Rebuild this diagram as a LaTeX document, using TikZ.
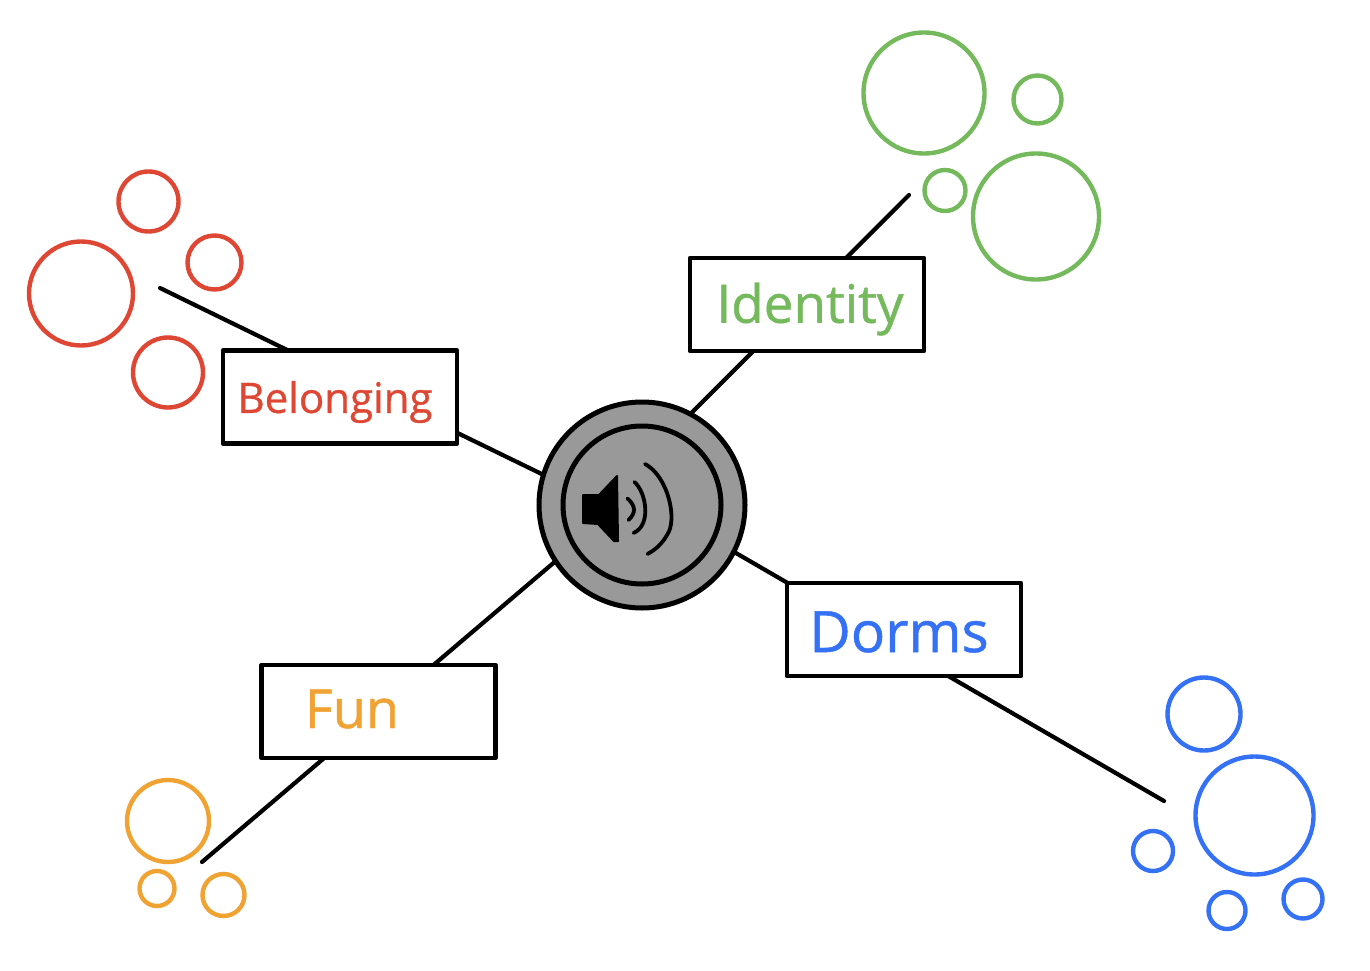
\documentclass[tikz,border=0pt]{standalone}
\usepackage{fontspec}
\setmainfont{Open Sans}
\newfontfamily\penfont[FakeBold=0.8]{Open Sans}
\usetikzlibrary{backgrounds}
\definecolor{cred}{HTML}{DE4733}
\definecolor{cgreen}{HTML}{74B95B}
\definecolor{cblue}{HTML}{3571F5}
\definecolor{corange}{HTML}{F0A232}
\definecolor{hubgray}{HTML}{999999}
\tikzset{
  x=1pt,y=-1pt,
  wire/.style={draw=black,line width=4.2pt,line cap=round},
  labelbox/.style={draw=black,fill=white,line width=4.6pt,minimum width=234pt,minimum height=93pt,inner sep=0pt,outer sep=0pt,line join=round},
  hubdisc/.style={circle,draw=black,fill=hubgray,line width=5pt,inner sep=0pt,outer sep=0pt},
  bubble/.style={circle,draw=#1,line width=4.4pt,inner sep=0pt,outer sep=0pt,fill=none},
  boxtext/.style={text=#1,inner sep=0pt},
  soundwave/.style={draw=black,line width=3.8pt,line cap=round}
}
\begin{document}
\begin{tikzpicture}
\useasboundingbox (0,0) rectangle (1370,971);
% hub
\node[hubdisc,minimum size=206pt] (hub) at (642,505) {};
\node[hubdisc,minimum size=158pt] (hubinner) at (642,505) {};
\fill[black,line join=round,draw=black,line width=2pt] (583,495) -- (599,495) -- (617,476) -- (618,541) -- (614,541) -- (598,524) -- (583,523) -- cycle;
\draw[soundwave] (627.5,498.5) .. controls (636,506) and (636,513) .. (628.5,520);
\draw[soundwave] (634.5,482) .. controls (646,492) and (652,525) .. (633.5,533);
\draw[soundwave] (645,464) .. controls (668,476) and (678,520) .. (667,535) .. controls (662,544) and (655,550) .. (647.5,554);
% boxes
\node[labelbox] (belonging) at (340,397) {};
\node[labelbox] (identity) at (807,304.5) {};
\node[labelbox] (dorms) at (904,629.5) {};
\node[labelbox] (fun) at (378.5,711.5) {};
% texts
\node[boxtext=cred,font=\penfont\fontsize{42}{48}\selectfont] (tbelonging) at (335,402) {Belonging};
\node[boxtext=cgreen,font=\penfont\fontsize{53}{60}\selectfont] (tidentity) at (810,309) {Identity};
\node[boxtext=cblue,font=\penfont\fontsize{57}{64}\selectfont] (tdorms) at (899,632) {Dorms};
\node[boxtext=corange,font=\penfont\fontsize{54}{60}\selectfont] (tfun) at (352,709) {Fun};
% free ends
\coordinate (endb) at (160,288);
\coordinate (endi) at (909,195);
\coordinate (endd) at (1164,801);
\coordinate (endf) at (202,862);
\begin{pgfonlayer}{background}
\draw[wire] (hub.163.5) -- (endb);
\draw[wire] (hub.62.4) -- (endi);
\draw[wire] (hub.-27.8) -- (endd);
\draw[wire] (hub.213.2) -- (endf);
\end{pgfonlayer}
% bubbles
\node[bubble=cred,minimum size=60pt] (r1) at (148.5,201.5) {};
\node[bubble=cred,minimum size=54pt] (r2) at (214.5,262.5) {};
\node[bubble=cred,minimum size=104pt] (r3) at (81,293.5) {};
\node[bubble=cred,minimum size=70pt] (r4) at (168,372.5) {};
\node[bubble=cgreen,minimum size=121pt] (g1) at (924,93) {};
\node[bubble=cgreen,minimum size=48pt] (g2) at (1037.5,99.5) {};
\node[bubble=cgreen,minimum size=41pt] (g3) at (945,190.5) {};
\node[bubble=cgreen,minimum size=126pt] (g4) at (1036,216.5) {};
\node[bubble=corange,minimum size=82pt] (o1) at (168,821) {};
\node[bubble=corange,minimum size=35pt] (o2) at (157,888.5) {};
\node[bubble=corange,minimum size=42pt] (o3) at (223.5,895) {};
\node[bubble=cblue,minimum size=73pt] (b1) at (1204,714) {};
\node[bubble=cblue,minimum size=118pt] (b2) at (1254.5,815.5) {};
\node[bubble=cblue,minimum size=40pt] (b3) at (1153,851) {};
\node[bubble=cblue,minimum size=37pt] (b4) at (1227,910.5) {};
\node[bubble=cblue,minimum size=39pt] (b5) at (1303,899) {};
\end{tikzpicture}
\end{document}
